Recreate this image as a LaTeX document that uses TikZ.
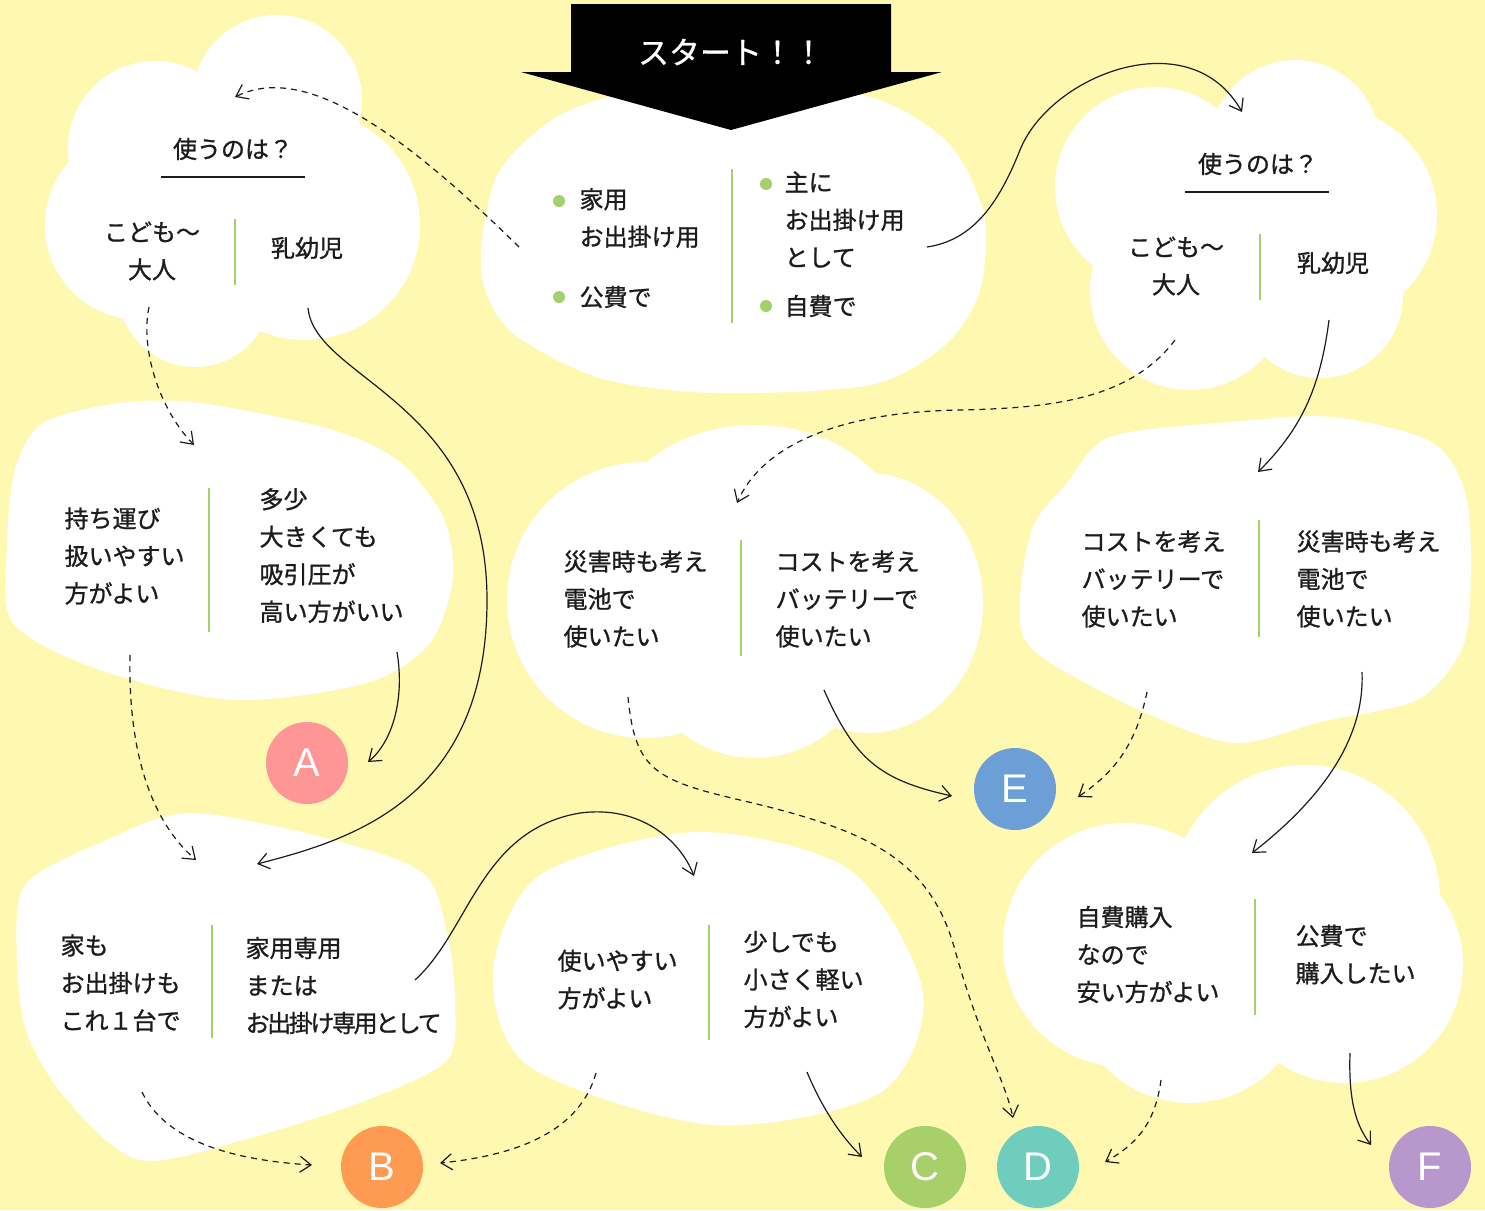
\documentclass[tikz,border=0pt]{standalone}
\usepackage{fontspec}
\usepackage{tikz}
\usetikzlibrary{arrows.meta}
\newfontfamily\jp[FakeBold=1]{Noto Sans CJK JP}
\newfontfamily\lat{Liberation Sans}
\definecolor{bg}{HTML}{FFF8B1}
\definecolor{ink}{HTML}{1C1C1C}
\definecolor{leaf}{HTML}{A6D06B}
\definecolor{goalA}{HTML}{FF9696}
\definecolor{goalB}{HTML}{FF9A52}
\definecolor{goalC}{HTML}{A7D06A}
\definecolor{goalD}{HTML}{6FCDBE}
\definecolor{goalE}{HTML}{6B9FD6}
\definecolor{goalF}{HTML}{B797CC}

\begin{document}
\begin{tikzpicture}[x=1pt, y=-1pt, line width=1.2pt,
                    cloud/.style = {fill=white},
                    txt/.style = {font={\jp\fontsize{24}{37.5}\selectfont}, text=ink, align=left, anchor=west, inner sep=0pt},
                    mid/.style = {txt, align=center, anchor=center},
                    bar/.style = {draw=leaf, line width=1.6pt},
                    dot/.style = {circle, fill=leaf, inner sep=0pt, minimum size=12pt},
                    goal/.style = {circle, inner sep=0pt, minimum size=82pt, text=white, font={\lat\fontsize{40}{40}\selectfont}},
                    go/.style = {draw=ink, -{Straight Barb[length=11pt, width=16pt]}},
                    maybe/.style = {go, dash pattern=on 6pt off 5pt}]
    \path[fill=bg, use as bounding box] (0,0) rectangle (1485,1210);

    % clouds
    \fill[cloud] (277,100) circle (85) (155,148) circle (87) (140,225) circle (95)
                 (195,290) circle (77) (305,225) circle (115);
    \fill[cloud] (1295,145) circle (85) (1155,187) circle (100) (1330,215) circle (107)
                 (1190,290) circle (100) (1320,295) circle (83);
    \fill[cloud] (755,545) ellipse [x radius=150, y radius=120] (645,600) circle (138)
                 (868,603) ellipse [x radius=115, y radius=130] (755,640) circle (118);
    \fill[cloud] (1305,900) circle (135) (1125,945) circle (122) (1345,965) circle (118)
                 (1190,985) circle (118);
    \fill[cloud] plot[smooth cycle] coordinates {(482,240) (500,170) (560,115) (650,88) (780,85)
        (880,100) (950,145) (984,215) (980,290) (945,345) (870,385) (713,393) (600,378) (515,335) (485,290)};
    \fill[cloud] plot[smooth cycle] coordinates {(15,470) (43,423) (120,403) (200,403) (333,430)
        (400,462) (443,517) (453,577) (430,643) (367,683) (233,700) (100,670) (13,623) (7,545)};
    \fill[cloud] plot[smooth cycle] coordinates {(1033,527) (1067,483) (1110,437) (1230,422) (1333,417)
        (1433,443) (1467,500) (1470,600) (1460,653) (1417,700) (1320,722) (1233,743) (1133,707) (1033,650) (1020,600)};
    \fill[cloud] plot[smooth cycle] coordinates {(190,813) (333,840) (423,873) (447,933) (455,1000)
        (447,1060) (367,1100) (250,1138) (140,1160) (67,1100) (27,1033) (17,960) (25,885) (100,843)};
    \fill[cloud] plot[smooth cycle] coordinates {(493,973) (540,875) (697,832) (850,870) (923,993)
        (880,1093) (713,1125) (530,1067)};

    % start
    \fill[black] (571,4) -- (891,4) -- (891,72) -- (942,72) -- (731,130) -- (521,72) -- (571,72) -- cycle;
    \node[font={\jp\fontsize{31}{31}\selectfont}, text=white] (start) at (731,52) {スタート！！};

    \node[dot] (b1) at (559,201) {};
    \node[dot] (b2) at (559,297) {};
    \node[dot] (b3) at (766,184) {};
    \node[dot] (b4) at (766,306) {};
    \node[txt] (homeA) at (579,218) {家用\\お出掛け用};
    \node[txt] (homeB) at (579,297) {公費で};
    \node[txt] (outA) at (784,219.5) {主に\\お出掛け用\\として};
    \node[txt] (outB) at (784,306) {自費で};
    \draw[bar] (732,169) -- (732,323);

    \node[mid] (askL) at (233,149) {使うのは？};
    \draw[ink] (161,177) -- (305,177);
    \node[mid] (kidL) at (152,251) {こども～\\大人};
    \node[mid] (babyL) at (307,248) {乳幼児};
    \draw[bar] (235,219) -- (235,285);

    \node[mid] (askR) at (1258,164) {使うのは？};
    \draw[ink] (1185,192) -- (1329,192);
    \node[mid] (kidR) at (1176,266) {こども～\\大人};
    \node[mid] (babyR) at (1333,263) {乳幼児};
    \draw[bar] (1260,234) -- (1260,300);

    \node[txt] (carry) at (64,556) {持ち運び\\扱いやすい\\方がよい};
    \node[txt] (power) at (259,555.5) {多少\\大きくても\\吸引圧が\\高い方がいい};
    \draw[bar] (209,488) -- (209,632);

    \node[txt] (cellM) at (563,599) {災害時も考え\\電池で\\使いたい};
    \node[txt] (packM) at (775,599) {コストを考え\\バッテリーで\\使いたい};
    \draw[bar] (741,540) -- (741,656);

    \node[txt] (packR) at (1081,579) {コストを考え\\バッテリーで\\使いたい};
    \node[txt] (cellR) at (1296,579) {災害時も考え\\電池で\\使いたい};
    \draw[bar] (1259,520) -- (1259,637);

    \node[txt] (both) at (60,983) {家も\\お出掛けも\\これ１台で};
    \node[txt] (split) at (245,985.5) {家用専用\\または\\{\addfontfeature{LetterSpace=-10}お出掛け専用として}};
    \draw[bar] (212,925) -- (212,1038);

    \node[txt] (easy) at (557,979.5) {使いやすい\\方がよい};
    \node[txt] (small) at (743,979.5) {少しでも\\小さく軽い\\方がよい};
    \draw[bar] (709,925) -- (709,1040);

    \node[txt] (cheap) at (1076,954.5) {自費購入\\なので\\安い方がよい};
    \node[txt] (grant) at (1295,954.5) {公費で\\購入したい};
    \draw[bar] (1255,899) -- (1255,1015);

    \node[goal, fill=goalA] (A) at (307,763) {A};
    \node[goal, fill=goalB] (B) at (382,1167) {B};
    \node[goal, fill=goalC] (C) at (925,1167) {C};
    \node[goal, fill=goalD] (D) at (1038,1167) {D};
    \node[goal, fill=goalE] (E) at (1015,789) {E};
    \node[goal, fill=goalF] (F) at (1430,1167) {F};

    % connectors
    \coordinate (homeOut) at (519,247);
    \coordinate (askLIn) at (235,97);
    \coordinate (outOut) at (927,247);
    \coordinate (askRIn) at (1242,112);
    \coordinate (kidLOut) at (149,307);
    \coordinate (carryIn) at (194,445);
    \coordinate (babyLOut) at (308,308);
    \coordinate (splitIn) at (257,864);
    \coordinate (powerOut) at (397,652);
    \coordinate (carryOut) at (130,655);
    \coordinate (bothIn) at (196,860);
    \coordinate (kidROut) at (1175,340);
    \coordinate (cellMIn) at (737,503);
    \coordinate (babyROut) at (1329,320);
    \coordinate (packRIn) at (1258,472);
    \coordinate (cellMOut) at (628,697);
    \coordinate (packMOut) at (824,690);
    \coordinate (packROut) at (1147,692);
    \coordinate (cellROut) at (1362,672);
    \coordinate (cheapIn) at (1252,853);
    \coordinate (splitOut) at (415,980);
    \coordinate (easyIn) at (694,876);
    \coordinate (bothOut) at (142,1092);
    \coordinate (easyOut) at (596,1073);
    \coordinate (smallOut) at (807,1072);
    \coordinate (cheapOut) at (1161,1080);
    \coordinate (grantOut) at (1350,1053);
    \coordinate (aIn) at (368,762);
    \coordinate (bLeft) at (312,1165);
    \coordinate (bRight) at (440,1163);
    \coordinate (cIn) at (862,1157);
    \coordinate (dTop) at (1013,1118);
    \coordinate (dRight) at (1105,1162);
    \coordinate (eLeft) at (952,796);
    \coordinate (eRight) at (1078,797);
    \coordinate (fIn) at (1371,1145);

    \draw[maybe] (homeOut) .. controls (390,120) and (300,65) .. (askLIn);
    \draw[go] (outOut) .. controls (975,240) and (1000,200) .. (1020,150)
              .. controls (1050,75) and (1190,20) .. (askRIn);
    \draw[maybe] (kidLOut) .. controls (140,350) and (160,410) .. (carryIn);
    \draw[go] (babyLOut) .. controls (315,380) and (487,400) .. (487,600)
              .. controls (487,800) and (350,840) .. (splitIn);
    \draw[go] (powerOut) .. controls (405,700) and (392,742) .. (aIn);
    \draw[maybe] (carryOut) .. controls (128,750) and (150,820) .. (bothIn);
    \draw[maybe] (kidROut) .. controls (1130,400) and (1050,408) .. (960,410)
                 .. controls (830,412) and (760,450) .. (cellMIn);
    \draw[go] (babyROut) .. controls (1320,390) and (1300,430) .. (packRIn);
    \draw[maybe] (cellMOut) .. controls (635,770) and (655,780) .. (740,800)
                 .. controls (870,830) and (930,860) .. (955,950)
                 .. controls (980,1040) and (1005,1080) .. (dTop);
    \draw[go] (packMOut) .. controls (855,760) and (880,780) .. (eLeft);
    \draw[maybe] (packROut) .. controls (1135,750) and (1110,775) .. (eRight);
    \draw[go] (cellROut) .. controls (1365,740) and (1320,800) .. (cheapIn);
    \draw[go] (splitOut) .. controls (470,930) and (480,830) .. (580,813)
              .. controls (640,805) and (680,840) .. (easyIn);
    \draw[maybe] (bothOut) .. controls (165,1140) and (230,1160) .. (bLeft);
    \draw[maybe] (easyOut) .. controls (580,1130) and (520,1155) .. (bRight);
    \draw[go] (smallOut) .. controls (825,1115) and (845,1140) .. (cIn);
    \draw[maybe] (cheapOut) .. controls (1155,1125) and (1135,1145) .. (dRight);
    \draw[go] (grantOut) .. controls (1348,1110) and (1360,1130) .. (fIn);
\end{tikzpicture}
\end{document}
